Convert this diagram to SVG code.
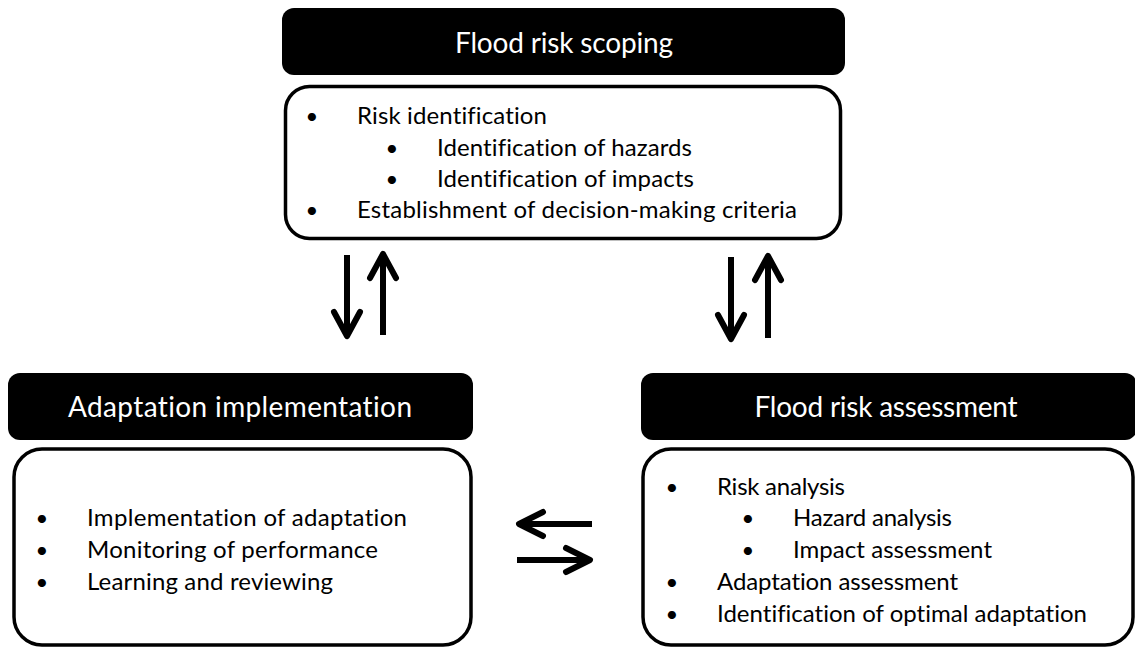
<svg xmlns="http://www.w3.org/2000/svg" width="1135" height="647" viewBox="0 0 1135 647">
  <style>
    .hdr { fill: #000; }
    .box { fill: #fff; stroke: #000; stroke-width: 3.5; }
    .htxt { fill: #fff; font-family: Lato, "Open Sans", sans-serif; font-size: 28px; text-anchor: middle; font-variant-ligatures: none; }
    .btxt { fill: #000; font-family: Lato, "Open Sans", sans-serif; font-size: 24px; font-variant-ligatures: none; }
    .bul { fill: #000; font-family: Lato, "Open Sans", sans-serif; font-size: 22px; text-anchor: middle; }
    .arr { fill: none; stroke: #000; stroke-width: 6; stroke-linecap: round; stroke-linejoin: round; }
    .shaft { fill: none; stroke: #000; stroke-width: 6; stroke-linecap: butt; }
  </style>

  <!-- Flood risk scoping -->
  <g id="scoping">
    <rect class="hdr" x="282" y="8" width="563" height="67" rx="12"/>
    <text class="htxt" x="564" y="53" textLength="218">Flood risk scoping</text>
    <rect class="box" x="285.5" y="86.5" width="555" height="152" rx="24"/>
    <g class="btxt">
      <text class="bul" x="312" y="124">•</text><text x="357" y="124" textLength="190">Risk identification</text>
      <text class="bul" x="392" y="156">•</text><text x="437" y="156" textLength="255">Identification of hazards</text>
      <text class="bul" x="392" y="187">•</text><text x="437" y="187" textLength="257">Identification of impacts</text>
      <text class="bul" x="312" y="218">•</text><text x="357" y="218" textLength="440">Establishment of decision-making criteria</text>
    </g>
  </g>

  <!-- Adaptation implementation -->
  <g id="implementation">
    <rect class="hdr" x="8" y="373" width="465" height="67" rx="12"/>
    <text class="htxt" x="240" y="417" textLength="344">Adaptation implementation</text>
    <rect class="box" x="14" y="449" width="457" height="196" rx="28"/>
    <g class="btxt">
      <text class="bul" x="42" y="526">•</text><text x="87" y="526" textLength="320">Implementation of adaptation</text>
      <text class="bul" x="42" y="558">•</text><text x="87" y="558" textLength="291">Monitoring of performance</text>
      <text class="bul" x="42" y="590">•</text><text x="87" y="590" textLength="246">Learning and reviewing</text>
    </g>
  </g>

  <!-- Flood risk assessment -->
  <g id="assessment">
    <rect class="hdr" x="641" y="373" width="496" height="67" rx="12"/>
    <text class="htxt" x="886" y="417" textLength="263">Flood risk assessment</text>
    <rect class="box" x="643" y="449" width="490" height="196" rx="28"/>
    <g class="btxt">
      <text class="bul" x="672" y="495">•</text><text x="717" y="495" textLength="128">Risk analysis</text>
      <text class="bul" x="748" y="526">•</text><text x="793" y="526" textLength="159">Hazard analysis</text>
      <text class="bul" x="748" y="558">•</text><text x="793" y="558" textLength="199">Impact assessment</text>
      <text class="bul" x="672" y="590">•</text><text x="717" y="590" textLength="241">Adaptation assessment</text>
      <text class="bul" x="672" y="622">•</text><text x="717" y="622" textLength="370">Identification of optimal adaptation</text>
    </g>
  </g>

  <!-- Two-way arrows between the stages -->
  <g id="connectors">
    <!-- scoping <-> implementation -->
    <line class="shaft" x1="347" y1="255" x2="347" y2="334"/>
    <polyline class="arr" points="334,312 347,336 360,312"/>
    <line class="shaft" x1="383" y1="335" x2="383" y2="256"/>
    <polyline class="arr" points="370,278 383,254 396,278"/>
    <!-- scoping <-> assessment -->
    <line class="shaft" x1="731" y1="257" x2="731" y2="337"/>
    <polyline class="arr" points="718,315 731,339 744,315"/>
    <line class="shaft" x1="768" y1="338" x2="768" y2="258"/>
    <polyline class="arr" points="755,280 768,256 781,280"/>
    <!-- assessment <-> implementation -->
    <line class="shaft" x1="592" y1="524" x2="521" y2="524"/>
    <polyline class="arr" points="543,512 519,524 543,536"/>
    <line class="shaft" x1="517" y1="560" x2="588" y2="560"/>
    <polyline class="arr" points="566,548 590,560 566,572"/>
  </g>
</svg>
